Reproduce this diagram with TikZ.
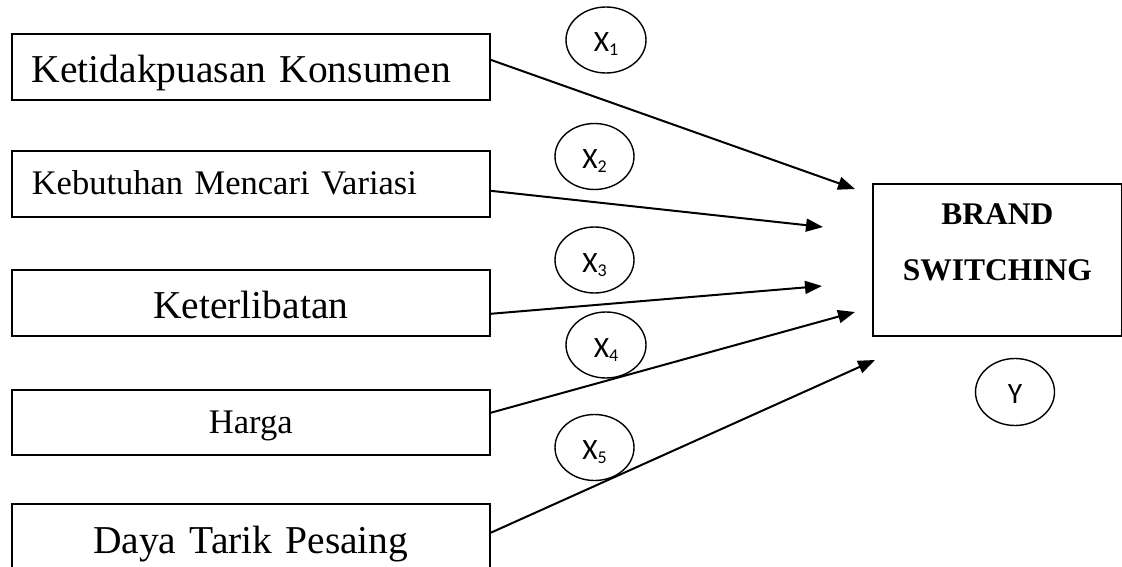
\documentclass[tikz,border=0pt]{standalone}
\usepackage{fontspec}
\setmainfont{Liberation Serif}
\newfontfamily\calib{Carlito}
\usetikzlibrary{shapes.geometric,arrows.meta}
\tikzset{
  varbox/.style={draw, line width=1.6pt, anchor=north west, inner xsep=20pt, inner ysep=0pt,
    text width=438pt},
  big/.style={font=\fontsize{39.5}{44}\selectfont},
  mid/.style={font=\fontsize{34.5}{40}\selectfont},
  varell/.style={draw, ellipse, line width=1.4pt, inner sep=0pt, minimum width=79pt, minimum height=66pt,
    font=\calib\fontsize{29.5}{32}\selectfont, text height=24pt, text depth=0pt},
  arr/.style={line width=2pt, -{Triangle[length=17pt,width=13pt]}},
}
\newcommand{\xsub}[1]{X\raisebox{-4pt}{\fontsize{18}{20}\selectfont #1}}
\begin{document}
\begin{tikzpicture}[x=1pt,y=-1pt]
\useasboundingbox (0,0) rectangle (1122,567);
\clip (0,0) rectangle (1122,567);
% left boxes
\node[varbox, big, align=left, text height=49pt, text depth=17pt] (b1) at (11,33) {Ketidakpuasan Konsumen};
\node[varbox, mid, align=left, text height=44pt, text depth=22pt] (b2) at (11,150) {Kebutuhan Mencari Variasi};
\node[varbox, big, align=center, text height=49pt, text depth=17pt] (b3) at (11,269) {Keterlibatan};
\node[varbox, mid, align=center, text height=44pt, text depth=21pt] (b4) at (11,389) {Harga};
\node[varbox, big, align=center, text height=50pt, text depth=16pt] (b5) at (11,503) {Daya Tarik Pesaing};
% right box
\node[draw, line width=1.6pt, anchor=north west, inner sep=0pt, text width=249pt, align=center,
  font=\bfseries\fontsize{31.5}{56}\selectfont, text height=41pt, text depth=111pt] (bs) at (872,183) {BRAND\\SWITCHING};
% ellipses
\node[varell, minimum width=80pt] (x1) at (606,40) {\xsub{1}};
\node[varell] (x2) at (594.5,156.5) {\xsub{2}};
\node[varell] (x3) at (594.5,260) {\xsub{3}};
\node[varell, minimum width=80pt] (x4) at (606,345) {\xsub{4}};
\node[varell] (x5) at (594.5,447.5) {\xsub{5}};
\node[varell, text height=22pt, minimum height=67pt] (y) at (1015,392) {Y};
% arrow tips
\coordinate (t1) at (855,189);
\coordinate (t2) at (823,227);
\coordinate (t3) at (822,286);
\coordinate (t4) at (855,312);
\coordinate (t5) at (875,360);
\draw[arr] ([yshift=7pt]b1.east) -- (t1);
\draw[arr] ([yshift=-7pt]b2.east) -- (t2);
\draw[arr] ([yshift=-11pt]b3.east) -- (t3);
\draw[arr] ([yshift=9.5pt]b4.east) -- (t4);
\draw[arr] ([yshift=4pt]b5.east) -- (t5);
\end{tikzpicture}
\end{document}
